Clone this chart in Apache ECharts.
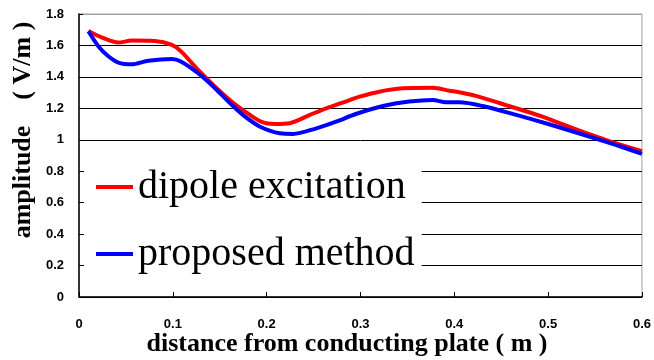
<!DOCTYPE html>
<html>
<head>
<meta charset="utf-8">
<script src="https://cdn.jsdelivr.net/npm/echarts@6/dist/echarts.min.js"></script>
<style>
  html, body { margin: 0; padding: 0; background: #fff; }
  #chart { width: 654px; height: 360px; }
</style>
</head>
<body>
<div id="chart"></div>
<script>
// Axis ticks
const xTicks = [0, 0.1, 0.2, 0.3, 0.4, 0.5, 0.6];
const yTicks = [0, 0.2, 0.4, 0.6, 0.8, 1, 1.2, 1.4, 1.6, 1.8];

// Series names
const seriesNames = ['dipole excitation', 'proposed method'];

// Dipole excitation: distance (m) and amplitude (V/m)
const dipoleDistance = [0.010, 0.024, 0.042, 0.056, 0.081, 0.099, 0.109, 0.127, 0.145, 0.163,
  0.177, 0.194, 0.209, 0.2245, 0.246, 0.2635, 0.281, 0.299, 0.320, 0.345,
  0.377, 0.395, 0.405, 0.423, 0.458, 0.494, 0.529, 0.565, 0.600];
const dipoleAmplitude = [1.692, 1.652, 1.618, 1.631, 1.628, 1.603, 1.561, 1.444, 1.338, 1.242,
  1.179, 1.115, 1.100, 1.105, 1.158, 1.200, 1.236, 1.274, 1.306, 1.327,
  1.331, 1.312, 1.302, 1.279, 1.215, 1.147, 1.067, 0.992, 0.928];

// Proposed method: distance (m) and amplitude (V/m)
const proposedDistance = [0.010, 0.021, 0.031, 0.042, 0.056, 0.074, 0.099, 0.109, 0.127, 0.145,
  0.163, 0.177, 0.193, 0.214, 0.228, 0.253, 0.274, 0.295, 0.324, 0.352,
  0.377, 0.391, 0.405, 0.430, 0.465, 0.501, 0.536, 0.572, 0.600];
const proposedAmplitude = [1.690, 1.592, 1.533, 1.491, 1.480, 1.503, 1.514, 1.497, 1.423, 1.328,
  1.221, 1.147, 1.083, 1.041, 1.037, 1.073, 1.115, 1.164, 1.215, 1.243,
  1.253, 1.238, 1.238, 1.215, 1.160, 1.099, 1.035, 0.967, 0.911];

const pairs = (xs, ys) => xs.map((x, i) => [x, ys[i]]);

const serif = "'Liberation Serif', 'Times New Roman', 'Noto Sans CJK JP', serif";
const sans = "'Liberation Sans', Arial, sans-serif";

const chart = echarts.init(document.getElementById('chart'), null, { renderer: 'canvas' });

// Horizontal grid lines are black; the top one doubles as the grey frame edge
const splitColors = yTicks.map((v, i) => (i === yTicks.length - 1 ? '#a0a0a0' : '#000'));

chart.setOption({
  animation: false,
  backgroundColor: '#fff',
  grid: {
    left: 79, right: 11, top: 14, bottom: 63,
    show: true, borderColor: '#a0a0a0', borderWidth: 1, backgroundColor: '#fff'
  },
  xAxis: {
    type: 'value',
    min: xTicks[0], max: xTicks[xTicks.length - 1],
    interval: xTicks[1] - xTicks[0],
    axisLine: { show: true, lineStyle: { color: '#000', width: 1.5 } },
    axisTick: { show: true, inside: true, length: 5, lineStyle: { color: '#000', width: 1 } },
    axisLabel: { color: '#000', fontFamily: sans, fontWeight: 'bold', fontSize: 13, margin: 21 },
    splitLine: { show: false }
  },
  yAxis: {
    type: 'value',
    min: yTicks[0], max: yTicks[yTicks.length - 1],
    interval: yTicks[1] - yTicks[0],
    axisLine: { show: true, lineStyle: { color: '#000', width: 1.5 } },
    axisTick: { show: true, inside: true, length: 4, lineStyle: { color: '#000', width: 1 } },
    axisLabel: { color: '#000', fontFamily: sans, fontWeight: 'bold', fontSize: 13, margin: 15 },
    splitLine: { show: true, lineStyle: { color: splitColors, width: 1 } }
  },
  legend: {
    orient: 'vertical',
    left: 84, top: 157,
    padding: [10, 7, 10, 12],
    backgroundColor: '#fff',
    icon: 'rect',
    itemWidth: 37, itemHeight: 4,
    itemGap: 27,
    itemTextGap: 11,
    textStyle: { fontFamily: serif, fontSize: 40, color: '#000', lineHeight: 40 },
    data: seriesNames
  },
  graphic: [
    {
      type: 'text',
      x: 23, y: 130,
      rotation: Math.PI / 2,
      style: {
        text: 'amplitude\u3000( V/m )',
        font: "bold 26px " + serif,
        fill: '#000',
        textAlign: 'center',
        textVerticalAlign: 'middle'
      }
    },
    {
      type: 'text',
      x: 347, y: 344,
      style: {
        text: 'distance from conducting plate ( m )',
        font: "bold 26px " + serif,
        fill: '#000',
        textAlign: 'center',
        textVerticalAlign: 'middle'
      }
    }
  ],
  series: [
    {
      name: seriesNames[0],
      type: 'line',
      data: pairs(dipoleDistance, dipoleAmplitude),
      smooth: 0.3,
      showSymbol: false,
      color: '#ff0000',
      lineStyle: { color: '#ff0000', width: 4 }
    },
    {
      name: seriesNames[1],
      type: 'line',
      data: pairs(proposedDistance, proposedAmplitude),
      smooth: 0.3,
      showSymbol: false,
      color: '#0000ff',
      lineStyle: { color: '#0000ff', width: 4 }
    }
  ]
});
</script>
</body>
</html>
